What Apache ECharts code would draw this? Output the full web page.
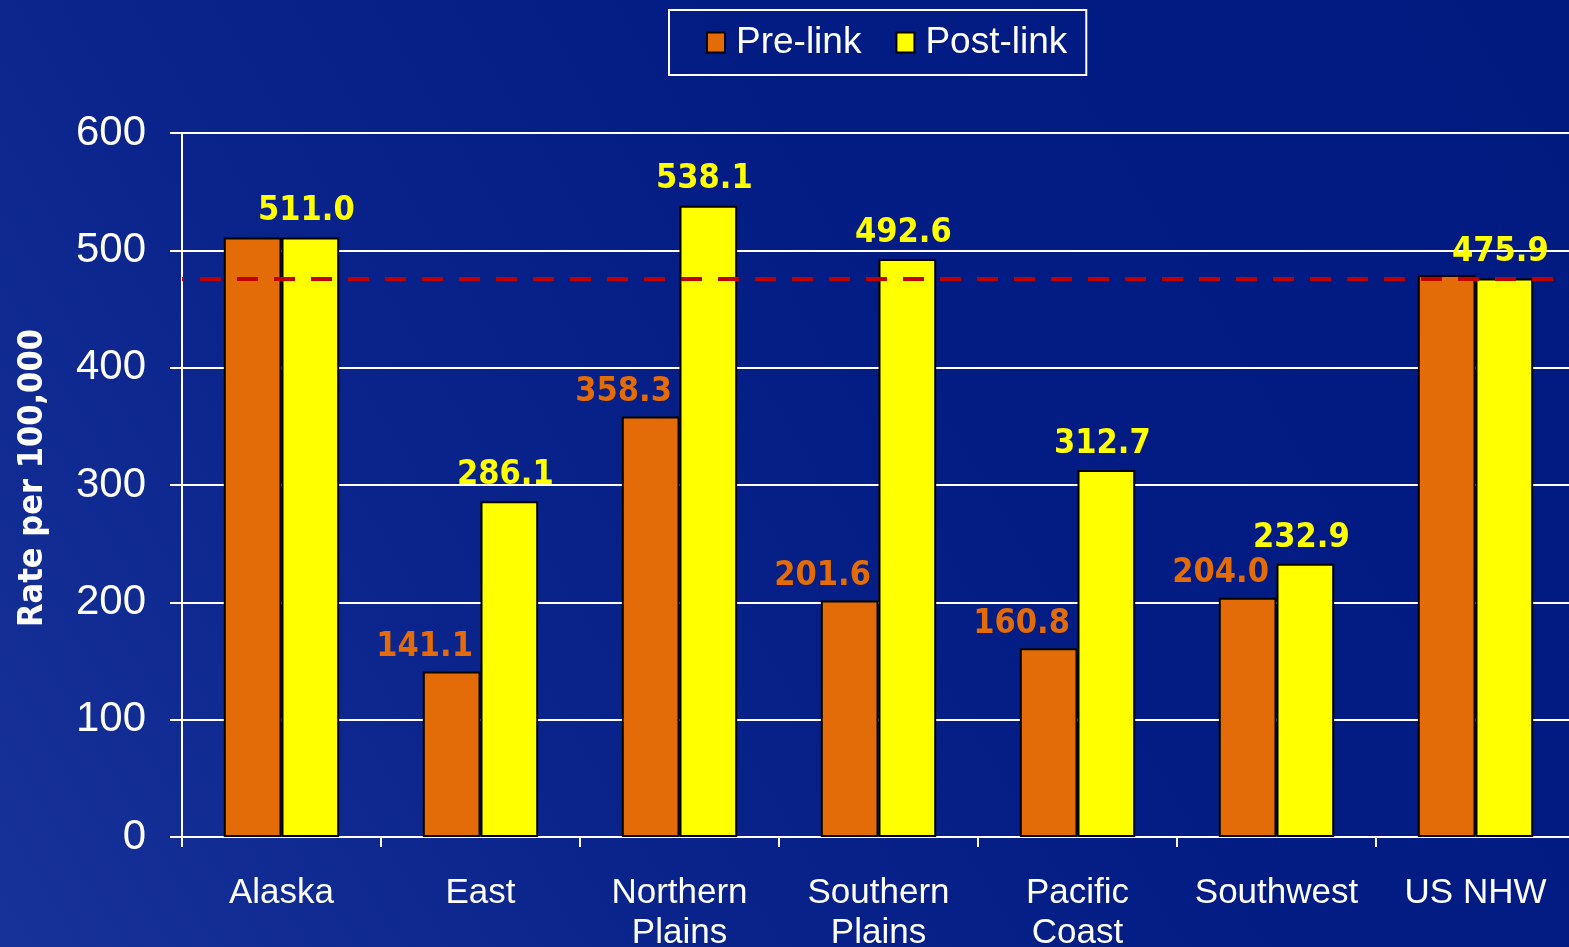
<!DOCTYPE html>
<html>
<head>
<meta charset="utf-8">
<title>Rate per 100,000 by region, pre-link and post-link</title>
<script src="https://cdn.jsdelivr.net/npm/echarts@6/dist/echarts.min.js"></script>
<style>
  html, body { margin: 0; padding: 0; width: 100%; height: 100%; overflow: hidden; }
  #chart { width: 1569px; height: 947px; }
</style>
</head>
<body>
<div id="chart"></div>
<script>
// Regions along the category axis
const regions = ['Alaska', 'East', 'Northern\nPlains', 'Southern\nPlains', 'Pacific\nCoast', 'Southwest', 'US NHW'];

// Rates per 100,000 before and after record linkage
const preLink = [511.0, 141.1, 358.3, 201.6, 160.8, 204.0, 479.0];
const postLink = [511.0, 286.1, 538.1, 492.6, 312.7, 232.9, 475.9];

// Regions whose pre-link value is not printed above the bar
const preLinkUnlabeled = ['Alaska', 'US NHW'];

// US non-Hispanic white reference rate (dashed line)
const usNhwReference = 475.9;

// Y-axis scale
const yMin = 0, yMax = 600, yStep = 100;

const labelFont = 'DejaVu Sans Condensed, DejaVu Sans, sans-serif';
const axisFont = 'Liberation Sans, Arial, sans-serif';

const chart = echarts.init(document.getElementById('chart'), null, { renderer: 'canvas' });

chart.setOption({
  animation: false,
  backgroundColor: {
    type: 'linear', x: 0, y: 1, x2: 1, y2: 0,
    colorStops: [
      { offset: 0, color: '#173299' },
      { offset: 0.3, color: '#0a248c' },
      { offset: 0.6, color: '#031c84' },
      { offset: 1, color: '#001a80' }
    ]
  },
  legend: {
    left: 669,
    top: 10,
    padding: [14, 19, 14, 37],
    borderColor: '#ffffff',
    borderWidth: 2,
    itemWidth: 18,
    itemHeight: 20,
    itemGap: 34,
    icon: 'rect',
    itemStyle: { borderColor: '#000000', borderWidth: 2 },
    textStyle: { color: '#ffffff', fontFamily: axisFont, fontSize: 37, padding: [0, 0, 0, 6] },
    data: ['Pre-link', 'Post-link']
  },
  grid: {
    left: 182,
    top: 133,
    width: 1393,
    bottom: 110,
    containLabel: false,
    outerBoundsMode: 'none'
  },
  xAxis: {
    type: 'category',
    data: regions,
    axisLine: { lineStyle: { color: '#ffffff', width: 2 } },
    axisTick: { show: true, alignWithLabel: false, length: 10, lineStyle: { color: '#ffffff', width: 2 } },
    axisLabel: {
      color: '#ffffff', fontFamily: axisFont, fontSize: 35, lineHeight: 40,
      margin: 36, interval: 0
    }
  },
  yAxis: {
    type: 'value',
    min: yMin, max: yMax, interval: yStep,
    name: 'Rate per 100,000',
    nameLocation: 'middle',
    nameGap: 132,
    nameRotate: 90,
    nameTextStyle: {
      color: '#ffffff', fontFamily: labelFont, fontWeight: 'bold', fontSize: 34,
      padding: [0, 0, 0, 14]
    },
    axisLine: { show: true, lineStyle: { color: '#ffffff', width: 2 } },
    axisTick: { show: true, length: 12, lineStyle: { color: '#ffffff', width: 2 } },
    axisLabel: { color: '#ffffff', fontFamily: axisFont, fontSize: 42, margin: 36 },
    splitLine: { show: true, lineStyle: { color: '#ffffff', width: 2 } }
  },
  series: [
    {
      name: 'Pre-link',
      type: 'bar',
      data: preLink,
      barGap: '0%',
      barCategoryGap: '42%',
      itemStyle: { color: '#e36c09', borderColor: '#000000', borderWidth: 2 },
      label: {
        show: true,
        position: 'top',
        distance: 7,
        offset: [-27, 0],
        color: '#e36c09',
        fontFamily: labelFont,
        fontWeight: 'bold',
        fontSize: 34,
        formatter: p => preLinkUnlabeled.includes(regions[p.dataIndex]) ? '' : p.value.toFixed(1)
      }
    },
    {
      name: 'Post-link',
      type: 'bar',
      data: postLink,
      itemStyle: { color: '#ffff00', borderColor: '#000000', borderWidth: 2 },
      label: {
        show: true,
        position: 'top',
        distance: 9,
        offset: [-4, 0],
        color: '#ffff00',
        fontFamily: labelFont,
        fontWeight: 'bold',
        fontSize: 34,
        formatter: p => p.value.toFixed(1)
      },
      markLine: {
        silent: true,
        symbol: 'none',
        label: { show: false },
        lineStyle: { color: '#c00000', width: 4, type: [21, 16], dashOffset: 19 },
        data: [{ yAxis: usNhwReference }]
      }
    }
  ]
});
</script>
</body>
</html>
